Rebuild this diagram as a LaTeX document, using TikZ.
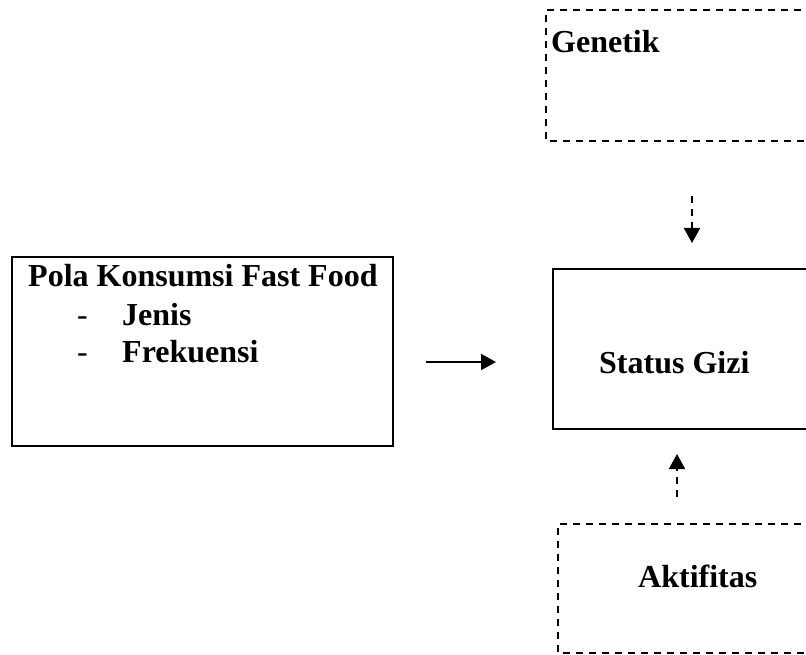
\documentclass[tikz,border=0pt]{standalone}
\usepackage{fontspec}
\setmainfont{Liberation Serif}
\usetikzlibrary{arrows.meta}
\begin{document}
\begin{tikzpicture}[x=1pt,y=-1pt,
  solidbox/.style={draw,line width=2pt},
  dashbox/.style={draw,line width=2pt,dash pattern=on 7pt off 6pt},
  lbl/.style={inner sep=0pt,anchor=base west,font=\fontsize{32}{38}\selectfont\bfseries},
  arr/.style={line width=2pt,-{Triangle[length=15pt,width=16pt]}},
  darr/.style={arr,dash pattern=on 7pt off 6pt}]
\useasboundingbox (0,0) rectangle (806,655);
% boxes
\draw[dashbox] (840,10) -- (546,10) -- (546,141) -- (840,141);
\node[inner sep=0pt] (gen) at (692,75) {};
\draw[solidbox] (12,257) rectangle (393,446);
\node[inner sep=0pt] (pola) at (202,351) {};
\draw[solidbox] (840,269) -- (553,269) -- (553,429) -- (840,429);
\node[inner sep=0pt] (stat) at (692,349) {};
\draw[dashbox] (840,524) -- (558,524) -- (558,653) -- (840,653);
\node[inner sep=0pt] (akt) at (692,588) {};
% texts
\node[lbl] (tgen) at (551,53) {Genetik};
\node[lbl] (tpola) at (28,287) {Pola Konsumsi Fast Food};
\node[lbl,font=\fontsize{32}{38}\selectfont] (d1) at (77,325) {-};
\node[lbl] (tjen) at (122,325) {Jenis};
\node[lbl,font=\fontsize{32}{38}\selectfont] (d2) at (77,362) {-};
\node[lbl] (tfre) at (122,362) {Frekuensi};
\node[lbl] (tstat) at (599,373) {Status Gizi};
\node[lbl] (takt) at (638,587) {Aktifitas};
% arrows
\coordinate (h1) at (426,362);
\coordinate (h2) at (496,362);
\draw[arr] (h1) -- (h2);
\coordinate (g1) at (692,196);
\coordinate (g2) at (692,243);
\draw[darr] (g1) -- (g2);
\coordinate (a1) at (677,497);
\coordinate (a2) at (677,454);
\draw[darr] (a1) -- (a2);
\end{tikzpicture}
\end{document}
